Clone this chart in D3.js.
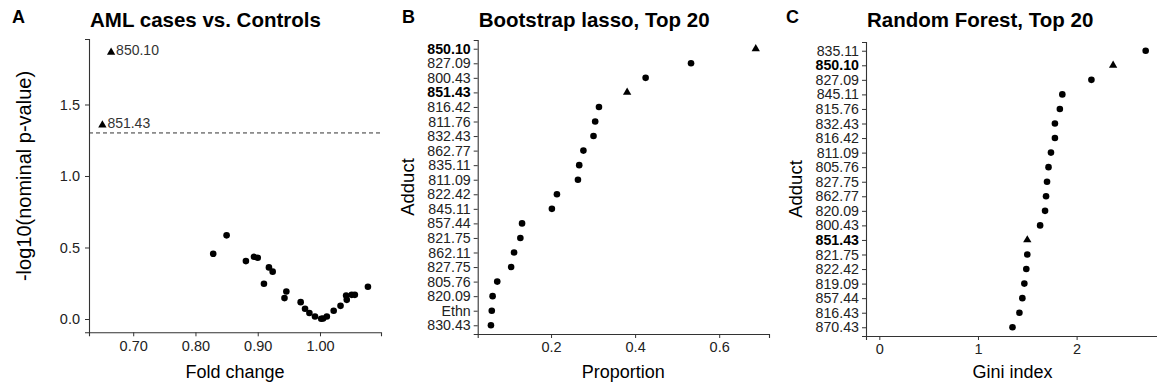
<!DOCTYPE html>
<html>
<head>
<meta charset="utf-8">
<script src="https://cdn.jsdelivr.net/npm/d3@7"></script>
<style>
  body { margin: 0; background: #fff; }
  text { font-family: 'Liberation Sans', Arial, sans-serif; }
</style>
</head>
<body>
<div id="chart"></div>
<script>
// panel A: volcano-like scatter
const volcanoFold = [0.8285, 0.850, 0.881, 0.894, 0.900, 0.910, 0.918, 0.924, 0.943, 0.946,
  0.969, 0.976, 0.983, 0.992, 1.002, 1.005, 1.011, 1.022, 1.033, 1.043, 1.042, 1.051, 1.056, 1.077];
const volcanoLogP = [0.456, 0.585, 0.405, 0.435, 0.428, 0.247, 0.361, 0.331, 0.146, 0.192,
  0.118, 0.072, 0.042, 0.018, 0.002, 0.004, 0.018, 0.058, 0.092, 0.134, 0.164, 0.169, 0.169, 0.226];
const highlightNames = ['850.10', '851.43'];
const highlightFold = [0.6645, 0.6505];
const highlightLogP = [1.865, 1.356];
const pThreshold = 0.05;

// panel B: bootstrap lasso
const lassoAdducts = ['850.10', '827.09', '800.43', '851.43', '816.42', '811.76', '832.43', '862.77', '835.11', '811.09',
  '822.42', '845.11', '857.44', '821.75', '862.11', '827.75', '805.76', '820.09', 'Ethn', '830.43'];
const lassoProportion = [0.687, 0.533, 0.425, 0.381, 0.314, 0.305, 0.301, 0.277, 0.267, 0.264,
  0.214, 0.202, 0.131, 0.127, 0.112, 0.105, 0.072, 0.061, 0.059, 0.057];

// panel C: random forest
const rfAdducts = ['835.11', '850.10', '827.09', '845.11', '815.76', '832.43', '816.42', '811.09', '805.76', '827.75',
  '862.77', '820.09', '800.43', '851.43', '821.75', '822.42', '819.09', '857.44', '816.43', '870.43'];
const rfGini = [2.70, 2.37, 2.15, 1.855, 1.83, 1.78, 1.78, 1.74, 1.715, 1.70,
  1.69, 1.68, 1.63, 1.50, 1.50, 1.49, 1.47, 1.45, 1.42, 1.35];

const width = 1157, height = 391;
const axisColor = '#333';
const textColor = '#222';

const svg = d3.select('#chart').append('svg')
  .attr('width', width)
  .attr('height', height);

function styleAxis (g, fontSize) {
  g.select('.domain').attr('stroke', axisColor).attr('stroke-width', 1.1);
  g.selectAll('.tick line').attr('stroke', axisColor).attr('stroke-width', 1);
  g.selectAll('.tick text').attr('fill', textColor).attr('font-size', fontSize)
    .attr('font-family', "'Liberation Sans', Arial, sans-serif");
}

function panelHeader (letter, letterX, title, titleX) {
  svg.append('text').attr('x', letterX).attr('y', 23)
    .attr('font-size', 18).attr('font-weight', 'bold').attr('fill', '#000').text(letter);
  svg.append('text').attr('x', titleX).attr('y', 27)
    .attr('font-size', 20.5).attr('font-weight', 'bold').attr('fill', '#000').text(title);
}

const triangle = d3.symbol(d3.symbolTriangle, 30);

// ---------- panel A ----------
{
  const box = { left: 89, right: 381, top: 39, bottom: 332.3 };
  const x = d3.scaleLinear().domain([0.629, 1.098]).range([box.left, box.right]);
  const y = d3.scaleLinear().domain([-0.093, 1.958]).range([box.bottom, box.top]);

  panelHeader('A', 12, 'AML cases vs. Controls', 90);

  const gx = svg.append('g').attr('transform', `translate(0,${box.bottom})`)
    .call(d3.axisBottom(x).tickValues([0.7, 0.8, 0.9, 1.0]).tickFormat(d3.format('.2f')).tickSizeOuter(0).tickSize(4).tickPadding(4));
  styleAxis(gx, 14.5);
  const gy = svg.append('g').attr('transform', `translate(${box.left},0)`)
    .call(d3.axisLeft(y).tickValues([0, 0.5, 1, 1.5]).tickFormat(d3.format('.1f')).tickSizeOuter(0).tickSize(4).tickPadding(5));
  styleAxis(gy, 14.5);

  svg.append('line')
    .attr('x1', box.left).attr('x2', box.right)
    .attr('y1', y(-Math.log10(pThreshold))).attr('y2', y(-Math.log10(pThreshold)))
    .attr('stroke', '#333').attr('stroke-width', 1).attr('stroke-dasharray', '4,3');

  svg.append('g').selectAll('circle')
    .data(volcanoFold.map((f, i) => ({ f, p: volcanoLogP[i] })))
    .join('circle')
    .attr('cx', d => x(d.f)).attr('cy', d => y(d.p)).attr('r', 3.3).attr('fill', '#000');

  const hi = highlightNames.map((n, i) => ({ n, f: highlightFold[i], p: highlightLogP[i] }));
  svg.append('g').selectAll('path')
    .data(hi).join('path')
    .attr('d', triangle)
    .attr('transform', d => `translate(${x(d.f)},${y(d.p)})`)
    .attr('fill', '#000');
  svg.append('g').selectAll('text')
    .data(hi).join('text')
    .attr('x', d => x(d.f) + 5).attr('y', d => y(d.p) + 3)
    .attr('font-size', 14).attr('fill', '#333').text(d => d.n);

  svg.append('text')
    .attr('transform', `translate(24,176) rotate(-90)`)
    .attr('text-anchor', 'middle').attr('dy', '0.35em')
    .attr('font-size', 20).attr('fill', '#000').text('-log10(nominal p-value)');
  svg.append('text')
    .attr('x', (box.left + box.right) / 2).attr('y', 378)
    .attr('text-anchor', 'middle').attr('font-size', 18).attr('fill', '#000').text('Fold change');
}

// ---------- dot plots B and C ----------
function dotPanel (opts) {
  const { box, adducts, values, domain, ticks, fmt, letter, letterX, title, xTitle, adductX } = opts;
  const x = d3.scaleLinear().domain(domain).range([box.left, box.right]);
  const y = d3.scalePoint().domain(adducts).range([box.top, box.bottom]).padding(0.6);

  panelHeader(letter, letterX, title, box.left + 1);

  const gx = svg.append('g').attr('transform', `translate(0,${box.bottom})`)
    .call(d3.axisBottom(x).tickValues(ticks).tickFormat(d3.format(fmt)).tickSizeOuter(0).tickSize(4).tickPadding(4));
  styleAxis(gx, 14.5);
  const gy = svg.append('g').attr('transform', `translate(${box.left},0)`)
    .call(d3.axisLeft(y).tickSizeOuter(0).tickSize(4).tickPadding(3));
  styleAxis(gy, 14.2);
  gy.selectAll('.tick text')
    .attr('font-weight', d => highlightNames.includes(d) ? 'bold' : 'normal')
    .attr('fill', d => highlightNames.includes(d) ? '#000' : textColor);

  const data = adducts.map((a, i) => ({ a, v: values[i] }));
  svg.append('g').selectAll('circle')
    .data(data.filter(d => !highlightNames.includes(d.a)))
    .join('circle')
    .attr('cx', d => x(d.v)).attr('cy', d => y(d.a)).attr('r', 3.3).attr('fill', '#000');
  svg.append('g').selectAll('path')
    .data(data.filter(d => highlightNames.includes(d.a)))
    .join('path')
    .attr('d', triangle)
    .attr('transform', d => `translate(${x(d.v)},${y(d.a)})`)
    .attr('fill', '#000');

  svg.append('text')
    .attr('transform', `translate(${adductX},${(box.top + box.bottom) / 2}) rotate(-90)`)
    .attr('text-anchor', 'middle').attr('dy', '0.35em')
    .attr('font-size', 18.5).attr('fill', '#000').text('Adduct');
  svg.append('text')
    .attr('x', (box.left + box.right) / 2).attr('y', 378)
    .attr('text-anchor', 'middle').attr('font-size', 18).attr('fill', '#000').text(xTitle);
}

dotPanel({
  box: { left: 477.7, right: 769, top: 40, bottom: 334 },
  adducts: lassoAdducts, values: lassoProportion,
  domain: [0.0255, 0.7185], ticks: [0.2, 0.4, 0.6], fmt: '.1f',
  letter: 'B', letterX: 402, title: 'Bootstrap lasso, Top 20', xTitle: 'Proportion', adductX: 408
});

dotPanel({
  box: { left: 866, right: 1159, top: 42, bottom: 336 },
  adducts: rfAdducts, values: rfGini,
  domain: [-0.135, 2.835], ticks: [0, 1, 2], fmt: 'd',
  letter: 'C', letterX: 786, title: 'Random Forest, Top 20', xTitle: 'Gini index', adductX: 796
});
</script>
</body>
</html>
